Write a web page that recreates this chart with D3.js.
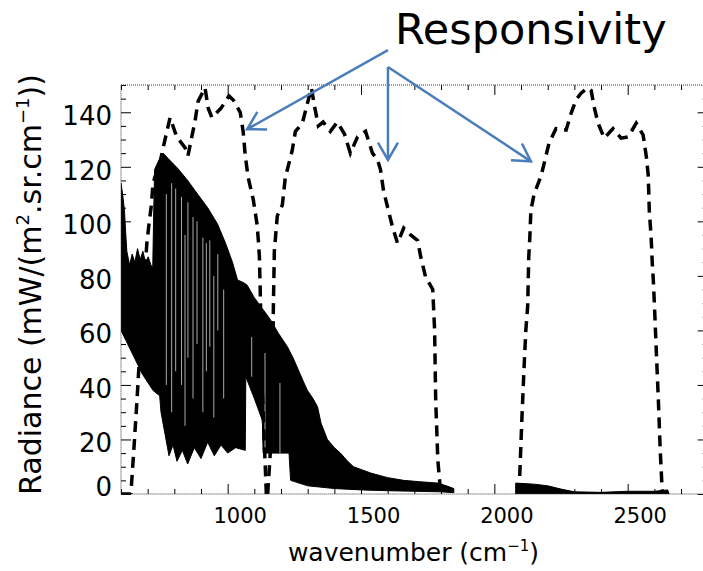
<!DOCTYPE html>
<html>
<head>
<meta charset="utf-8">
<script src="https://cdn.jsdelivr.net/npm/d3@7"></script>
<style>
  body { margin: 0; background: #fff; }
  svg { display: block; }
  text { font-family: "DejaVu Sans", sans-serif; fill: #000; }
</style>
</head>
<body>
<script>
// radiance spectrum, drawn as a band between its upper and lower envelope
// [wavenumber (cm-1), radiance]
const specTop1 = [[600,114],[606,110],[613,104],[618,95],[622,89],[632,84],[642,88],[652,85],[662,90],
  [672,86],[682,89],[692,85],[702,87],[712,84],[719,83],[722,100],[726,119],[740,122],[758,125],[777,123],
  [812,119.5],[850,115],[887,110],[925,105],[962,99],[992,92],[1018,85],[1037,78.5],[1060,77.5],[1073,76.6],
  [1100,72],[1130,68],[1160,64],[1190,59],[1224,54],[1245,50],[1265,45.5],[1285,41],[1299,38],[1320,35],
  [1337,32],[1350,26],[1374,20],[1400,17],[1423,15],[1450,12],[1472,10],[1536,7.7],[1600,6],[1660,5],
  [1720,4.5],[1788,4],[1820,3],[1848,2]];
const specBottom1 = [[600,60],[620,56],[640,52],[660,48],[680,44],[700,41],[720,38],[745,36],[750,30],
  [765,22],[780,14],[795,18],[810,12],[830,16],[850,11],[875,17],[900,13],[925,19],[950,14],[975,18],
  [1000,15],[1030,17],[1066,16],[1068,43],[1100,35],[1130,27],[1133,15],
  [1230,15],[1236,5],[1300,3],[1400,2],[1500,1.5],[1600,1.2],[1700,1],[1800,0.8],[1848,0.5]];
const specTop2 = [[2080,4],[2150,3.6],[2200,3],[2250,1.8],[2300,0.8],[2400,0.6],[2500,1],[2600,1],[2650,1.5],[2655,0]];
const specBottom2 = [[2080,0],[2655,0]];

// thin gaps visible inside the dense spectrum: [wavenumber, from, to]
const specGaps = [[770,40,110],[790,30,114],[805,45,112],[827,40,109],[840,25,95],[851,50,107],[870,35,101.6],
  [885,55,100],[907,30,94],[920,45,92],[933,54,93],[948,28,80],[963,60,88],[985,35,75],
  [1090,43,57.6],[1140,15,51.7],[1196,15,40.7]];

// instrument responsivity of the three bands (scaled to the radiance axis)
const band1 = [[600,0],[637,0],[648,16],[660,34.5],[671,53],[682,71],[690,82],[697,92],[705,99],[714,106],
  [720,114],[747,122],[765,130],[784,138],[809,131],[840,127],[851,124],[878,137],[889,144],[915,149],
  [927,141.5],[941,138],[975,141.5],[1005,146],[1021,144.5],[1047,140],[1058,133],[1066,124],[1077,116],
  [1096,108],[1110,99],[1115,93],[1119,87],[1122,75],[1126,56],[1130,38],[1137,20],[1145,0],[1150,0]];
const band2 = [[1150,0],[1163,20],[1169,42],[1171,66],[1173,78],[1175,89],[1186,102],[1205,106],[1216,116],
  [1242,126],[1254,133],[1280,136],[1314,149],[1325,142.6],[1340,135],[1358,136.4],[1385,133],[1411,136.4],
  [1438,132],[1460,125],[1487,131],[1517,133],[1543,125],[1562,122.5],[1573,119],[1584,111.5],[1600,105],
  [1618,98],[1637,92],[1660,97.5],[1686,95],[1712,93],[1724,87],[1742,79.6],[1769,75],[1776,60],
  [1780,34.5],[1788,12.5],[1799,0]];
const band3 = [[2092,0],[2096,8.8],[2103,27],[2111,45.5],[2118,60],[2125,69],[2129,87],[2133,94],[2137,104],
  [2149,110],[2175,116.6],[2186,121],[2205,128.7],[2231,134],[2269,133.5],[2288,139.7],[2306,144.5],
  [2325,147],[2350,149],[2363,148],[2374,142],[2389,136],[2412,130.5],[2445,134],[2475,130.5],[2502,131],
  [2532,136],[2558,131.6],[2570,123.6],[2577,117],[2581,104],[2588,94],[2592,85],[2596,78.5],[2600,70],
  [2607,53],[2615,34.5],[2622,16],[2630,0],[2650,0]];

const xMajor = [1000, 1500, 2000, 2500];
const yMajor = [0, 20, 40, 60, 80, 100, 120, 140];

// annotation, in data coordinates
const noteLabel = "Responsivity";
const noteText = [1627, 165];
const noteArrows = [
  [[1601, 162.8], [1073, 133.8]],
  [[1601, 156.6], [1601, 122.5]],
  [[1601, 156.6], [2137, 122]]
];

const W = 703, H = 571;
const PLOT = { left: 121, right: 707.7, top: 85, bottom: 494 };

const svg = d3.select("body").append("svg")
  .attr("width", W).attr("height", H);

const x = d3.scaleLinear().domain([600, 2800]).range([PLOT.left, PLOT.right]);
const y = d3.scaleLinear().domain([0, 150]).range([PLOT.bottom, PLOT.top]);

svg.append("clipPath").attr("id", "plotclip")
  .append("rect")
  .attr("x", PLOT.left).attr("y", PLOT.top)
  .attr("width", PLOT.right - PLOT.left).attr("height", PLOT.bottom - PLOT.top);

const plot = svg.append("g").attr("clip-path", "url(#plotclip)");
const line = d3.line().x(d => x(d[0])).y(d => y(d[1]));

// spectrum bands
[[specTop1, specBottom1], [specTop2, specBottom2]].forEach(([top, bottom]) => {
  const poly = top.concat(bottom.slice().reverse());
  plot.append("path")
    .attr("d", line(poly) + "Z")
    .attr("fill", "#000")
    .attr("stroke", "#000")
    .attr("stroke-width", 1);
});

plot.selectAll(".gap").data(specGaps).join("line")
  .attr("class", "gap")
  .attr("x1", d => x(d[0])).attr("x2", d => x(d[0]))
  .attr("y1", d => y(d[1])).attr("y2", d => y(d[2]))
  .attr("stroke", "#aaa")
  .attr("stroke-width", 1);

// responsivity curves
[band1, band2, band3].forEach(b => {
  plot.append("path")
    .attr("d", line(b))
    .attr("fill", "none")
    .attr("stroke", "#000")
    .attr("stroke-width", 3.5)
    .attr("stroke-dasharray", "11,7");
});

// axes
const xMinor = d3.range(600, 2801, 100).filter(v => !xMajor.includes(v));
const yMinor = d3.range(0, 151, 5).filter(v => !yMajor.includes(v));

function tickStyle(g, size) {
  g.select(".domain").remove();
  g.selectAll(".tick line").attr("stroke", "#000").attr("stroke-width", 1);
  g.selectAll(".tick text").attr("font-size", size).attr("fill", "#000");
}

const xAxisG = svg.append("g")
  .attr("transform", `translate(0,${PLOT.bottom})`)
  .call(d3.axisBottom(x).tickValues(xMajor).tickSize(-10).tickPadding(14).tickFormat(d3.format("d")))
  .call(tickStyle, 21);
xAxisG.selectAll(".tick text").attr("dx", 12);
svg.append("g")
  .attr("transform", `translate(0,${PLOT.bottom})`)
  .call(d3.axisBottom(x).tickValues(xMinor).tickSize(-5).tickFormat(""))
  .call(tickStyle);
svg.append("g")
  .attr("transform", `translate(0,${PLOT.top})`)
  .call(d3.axisTop(x).tickValues(xMajor).tickSize(-10).tickFormat(""))
  .call(tickStyle);
svg.append("g")
  .attr("transform", `translate(0,${PLOT.top})`)
  .call(d3.axisTop(x).tickValues(xMinor).tickSize(-5).tickFormat(""))
  .call(tickStyle);

const yAxisG = svg.append("g")
  .attr("transform", `translate(${PLOT.left},0)`)
  .call(d3.axisLeft(y).tickValues(yMajor).tickSize(-10).tickPadding(9).tickFormat(d3.format("d")))
  .call(tickStyle, 26);
yAxisG.selectAll(".tick text").attr("y", d => d === 0 ? -7 : 4);
svg.append("g")
  .attr("transform", `translate(${PLOT.left},0)`)
  .call(d3.axisLeft(y).tickValues(yMinor).tickSize(-5).tickFormat(""))
  .call(tickStyle);
svg.append("g")
  .attr("transform", `translate(${PLOT.right},0)`)
  .call(d3.axisRight(y).tickValues(yMajor).tickSize(-10).tickFormat(""))
  .call(tickStyle);
svg.append("g")
  .attr("transform", `translate(${PLOT.right},0)`)
  .call(d3.axisRight(y).tickValues(yMinor).tickSize(-5).tickFormat(""))
  .call(tickStyle);

// frame
svg.append("rect")
  .attr("x", PLOT.left).attr("y", PLOT.top)
  .attr("width", PLOT.right - PLOT.left).attr("height", PLOT.bottom - PLOT.top)
  .attr("fill", "none")
  .attr("stroke", "#333")
  .attr("stroke-width", 1)
  .attr("stroke-dasharray", "1,1");

// axis titles
const xt = svg.append("text")
  .attr("x", (PLOT.left + 706) / 2).attr("y", 561)
  .attr("text-anchor", "middle")
  .attr("font-size", 25);
xt.append("tspan").text("wavenumber (cm");
xt.append("tspan").attr("font-size", 15).attr("dy", -10).text("\u22121");
xt.append("tspan").attr("dy", 10).text(")");

const yt = svg.append("text")
  .attr("transform", `translate(41,${(PLOT.top + PLOT.bottom) / 2 - 5}) rotate(-90)`)
  .attr("text-anchor", "middle")
  .attr("font-size", 30);
yt.append("tspan").text("Radiance (mW/(m");
yt.append("tspan").attr("font-size", 18).attr("dy", -12).text("2");
yt.append("tspan").attr("dy", 12).text(".sr.cm");
yt.append("tspan").attr("font-size", 18).attr("dy", -12).text("\u22121");
yt.append("tspan").attr("dy", 12).text("))");

// annotation
svg.append("text")
  .attr("x", x(noteText[0])).attr("y", y(noteText[1]))
  .attr("font-family", "Liberation Sans, Arial, sans-serif")
  .attr("font-size", 43)
  .text(noteLabel);

const blue = "#4a7ebb";
noteArrows.forEach(([from, to]) => {
  const x0 = x(from[0]), y0 = y(from[1]), x1 = x(to[0]), y1 = y(to[1]);
  svg.append("line")
    .attr("x1", x0).attr("y1", y0).attr("x2", x1).attr("y2", y1)
    .attr("stroke", blue).attr("stroke-width", 2.5);
  const ang = Math.atan2(y0 - y1, x0 - x1);
  const head = [ang + Math.PI / 6, ang - Math.PI / 6].map(a => [x1 + 20 * Math.cos(a), y1 + 20 * Math.sin(a)]);
  svg.append("path")
    .attr("d", `M${head[0][0]},${head[0][1]}L${x1},${y1}L${head[1][0]},${head[1][1]}`)
    .attr("fill", "none")
    .attr("stroke", blue).attr("stroke-width", 2.5)
    .attr("stroke-linejoin", "miter");
});
</script>
</body>
</html>
